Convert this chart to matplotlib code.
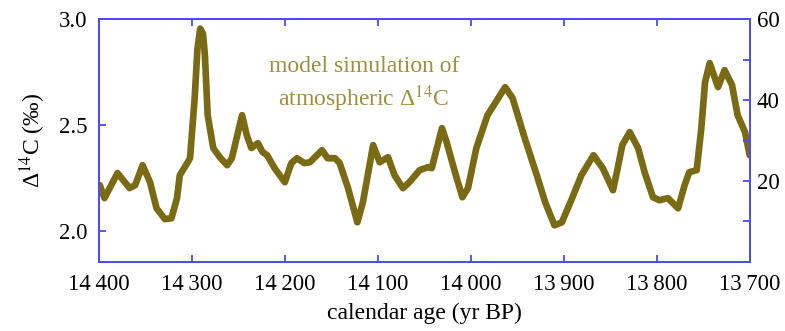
import matplotlib
matplotlib.use("Agg")
import matplotlib.pyplot as plt
from matplotlib.ticker import FixedLocator, FuncFormatter

# traced model curve: calendar age (yr BP) and Delta14C (left axis units)
age = [14399, 14394, 14380, 14367, 14361, 14353, 14345, 14338, 14329, 14322,
       14316, 14313, 14305, 14302, 14297, 14294, 14291, 14288, 14286, 14283,
       14277, 14270, 14262, 14257, 14246, 14241, 14236, 14229, 14224, 14219,
       14211, 14200, 14193, 14187, 14179, 14173, 14160, 14154, 14146, 14141,
       14132, 14122, 14116, 14105, 14098, 14089, 14082, 14073, 14066, 14055,
       14046, 14042, 14031, 14026, 14017, 14009, 14003, 13994, 13982, 13963,
       13955, 13942, 13929, 13920, 13910, 13902, 13891, 13881, 13868, 13858,
       13847, 13842, 13837, 13829, 13820, 13813, 13804, 13797, 13788, 13777,
       13770, 13765, 13757, 13752, 13748, 13743, 13734, 13727, 13719, 13713,
       13705, 13700]
d14c = [2.217, 2.156, 2.274, 2.203, 2.217, 2.311, 2.231, 2.108, 2.057, 2.061,
        2.156, 2.264, 2.321, 2.344, 2.627, 2.860, 2.955, 2.930, 2.830, 2.547,
        2.392, 2.349, 2.311, 2.344, 2.547, 2.453, 2.392, 2.415, 2.373, 2.358,
        2.297, 2.231, 2.321, 2.344, 2.321, 2.325, 2.382, 2.344, 2.344, 2.321,
        2.203, 2.042, 2.137, 2.406, 2.325, 2.349, 2.264, 2.203, 2.231, 2.288,
        2.302, 2.297, 2.486, 2.420, 2.278, 2.160, 2.203, 2.392, 2.547, 2.679,
        2.627, 2.439, 2.264, 2.137, 2.028, 2.042, 2.156, 2.264, 2.358, 2.297,
        2.193, 2.297, 2.406, 2.467, 2.392, 2.278, 2.160, 2.146, 2.156, 2.108,
        2.217, 2.278, 2.288, 2.486, 2.703, 2.792, 2.679, 2.759, 2.689, 2.547,
        2.467, 2.358]

x_ticks = [14400, 14300, 14200, 14100, 14000, 13900, 13800, 13700]
left_ticks = [2.0, 2.5, 3.0]
right_ticks = [20, 40, 60]
right_minor = [10, 30, 50]

LINE = "#7a6a14"
TEXT = "#a08e3e"
SPINE = "#4a4aff"

plt.rcParams["font.family"] = ["Liberation Serif", "DejaVu Serif"]
plt.rcParams["mathtext.fontset"] = "stix"

fig = plt.figure(figsize=(7.85, 3.31), dpi=100)
ax = fig.add_axes([0.126, 0.2085, 0.829, 0.734])
ax2 = ax.twinx()

ax.plot(age, d14c, color=LINE, lw=4.8, solid_capstyle="round", solid_joinstyle="round")
ax.set_xlim(14400, 13700)
ax.set_ylim(1.855, 3.0)
ax2.set_ylim(0, 60)

ax.xaxis.set_major_locator(FixedLocator(x_ticks))
ax.xaxis.set_major_formatter(FuncFormatter(lambda v, p: f"{int(v) // 1000}\u2009{int(v) % 1000:03d}"))
ax.yaxis.set_major_locator(FixedLocator(left_ticks))
ax.yaxis.set_major_formatter(FuncFormatter(lambda v, p: f"{v:.1f}"))
ax2.yaxis.set_major_locator(FixedLocator(right_ticks))
ax2.yaxis.set_minor_locator(FixedLocator(right_minor))

for a in (ax, ax2):
    for s in a.spines.values():
        s.set_color(SPINE)
        s.set_linewidth(1.3)
ax.tick_params(axis="both", which="both", direction="in", color=SPINE, length=5,
               width=1.3, labelsize=16.5, top=True)
ax.tick_params(axis="x", pad=9)
ax.tick_params(axis="y", pad=8)
ax2.tick_params(axis="y", which="both", direction="in", color=SPINE, length=5,
                width=1.3, labelsize=16.5, pad=5)

ax.set_xlabel("calendar age (yr BP)", fontsize=17, labelpad=5)
ax.set_ylabel("Δ$^{14}$C (‰)", fontsize=17, labelpad=8)

ax.text(0.407, 0.728, "model simulation of\natmospheric Δ$^{14}$C", transform=ax.transAxes,
        ha="center", va="center", fontsize=17, color=TEXT, linespacing=1.25)

fig.savefig("out.png", dpi=100)
